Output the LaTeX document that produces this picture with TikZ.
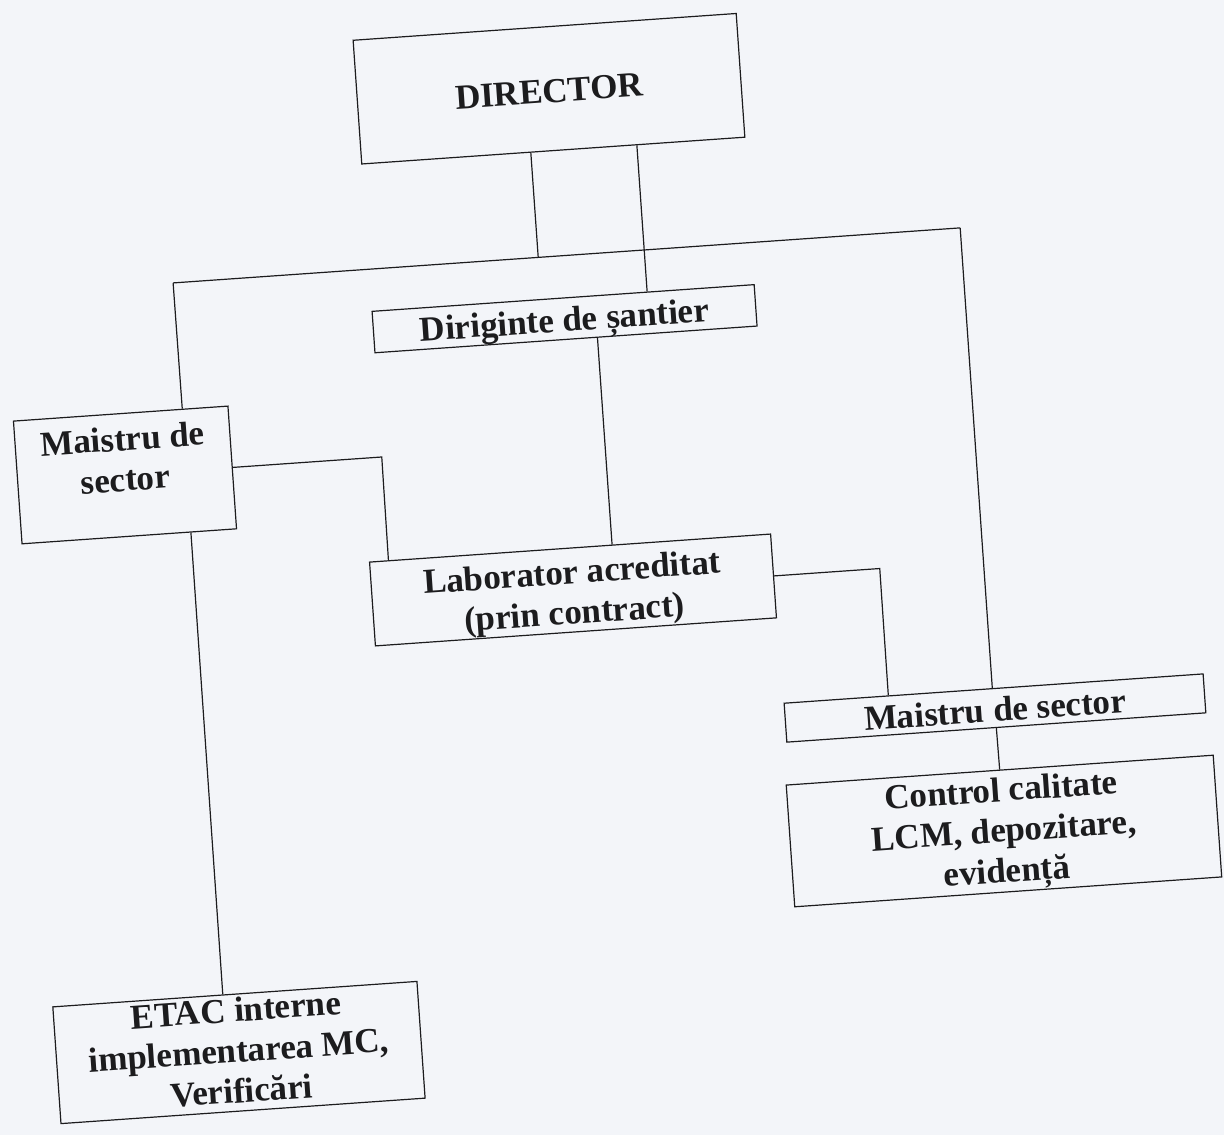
\documentclass[tikz,border=0pt]{standalone}
\usepackage{fontspec}
\setmainfont{Liberation Serif}
\usetikzlibrary{calc}
\definecolor{paper}{RGB}{243,245,249}
\definecolor{ink}{RGB}{28,28,30}
\begin{document}
\begin{tikzpicture}[x=1pt,y=-1pt,
  box/.style={draw=ink, line width=1.2pt, rectangle, inner sep=0pt, align=center,
    font=\bfseries\fontsize{35}{40.5}\selectfont, text=ink},
  lbl/.style={inner sep=0pt, align=center, font=\bfseries\fontsize{35}{40.5}\selectfont, text=ink},
  conn/.style={draw=ink, line width=1.2pt}]
\fill[paper] (0,0) rectangle (1224,1135);
\useasboundingbox (0,0) rectangle (1224,1135);
\begin{scope}[rotate around={4:(612,567)}, transform shape]
  % boxes
  \node[box, minimum width=384pt, minimum height=124pt] (dir) at (582.5,85.5) {};
  \node[lbl] (dirt) at (582.5,88) {DIRECTOR};
  \node[box, minimum width=383pt, minimum height=41.5pt] (dgs) at (582,316) {};
  \node[lbl] (dgst) at (582,321) {Diriginte de șantier};
  \node[box, minimum width=215pt, minimum height=123pt] (msl) at (132.6,441.2) {};
  \node[lbl] (mslt) at (132.6,425) {Maistru de\\sector};
  \node[box, minimum width=402pt, minimum height=84pt] (lab) at (571.5,587.2) {};
  \node[lbl] (labt) at (571.5,592.5) {Laborator acreditat\\(prin contract)};
  \node[box, minimum width=420pt, minimum height=39pt] (msr) at (984.2,734.4) {};
  \node[lbl] (msrt) at (984.2,736) {Maistru de sector};
  \node[box, minimum width=428pt, minimum height=122pt] (ctl) at (984.6,857.7) {};
  \node[lbl] (ctlt) at (984.6,861) {Control calitate\\LCM, depozitare,\\evidență};
  \node[box, minimum width=365pt, minimum height=117pt] (etac) at (206,1025.3) {};
  \node[lbl] (etact) at (206,1023) {ETAC interne\\implementarea MC,\\Verificări};
  % junctions
  \coordinate (jL) at (194,253);
  \coordinate (jA) at (560,253);
  \coordinate (jR) at (983,253);
  \coordinate (cML) at (390,441.2);
  \coordinate (cLR) at (879,587.2);
  % connectors
  \draw[conn] ($(dir.south west)!0.4414!(dir.south east)$) -- (jA);
  \draw[conn] ($(dir.south west)!0.7174!(dir.south east)$) -- ($(dgs.north west)!0.7193!(dgs.north east)$);
  \draw[conn] (jL) -- (jR);
  \draw[conn] (jL) -- ($(msl.north west)!0.7856!(msl.north east)$);
  \draw[conn] (jR) -- ($(msr.north west)!0.497!(msr.north east)$);
  \draw[conn] ($(dgs.south west)!0.582!(dgs.south east)$) -- ($(lab.north west)!0.6045!(lab.north east)$);
  \draw[conn] (msl.east) -- (cML) -- ($(lab.north west)!0.0485!(lab.north east)$);
  \draw[conn] (lab.east) -- (cLR) -- ($(msr.north west)!0.2495!(msr.north east)$);
  \draw[conn] ($(msl.south west)!0.7856!(msl.south east)$) -- ($(etac.north west)!0.467!(etac.north east)$);
  \draw[conn] (msr.south) -- (ctl.north);
\end{scope}
\end{tikzpicture}
\end{document}
